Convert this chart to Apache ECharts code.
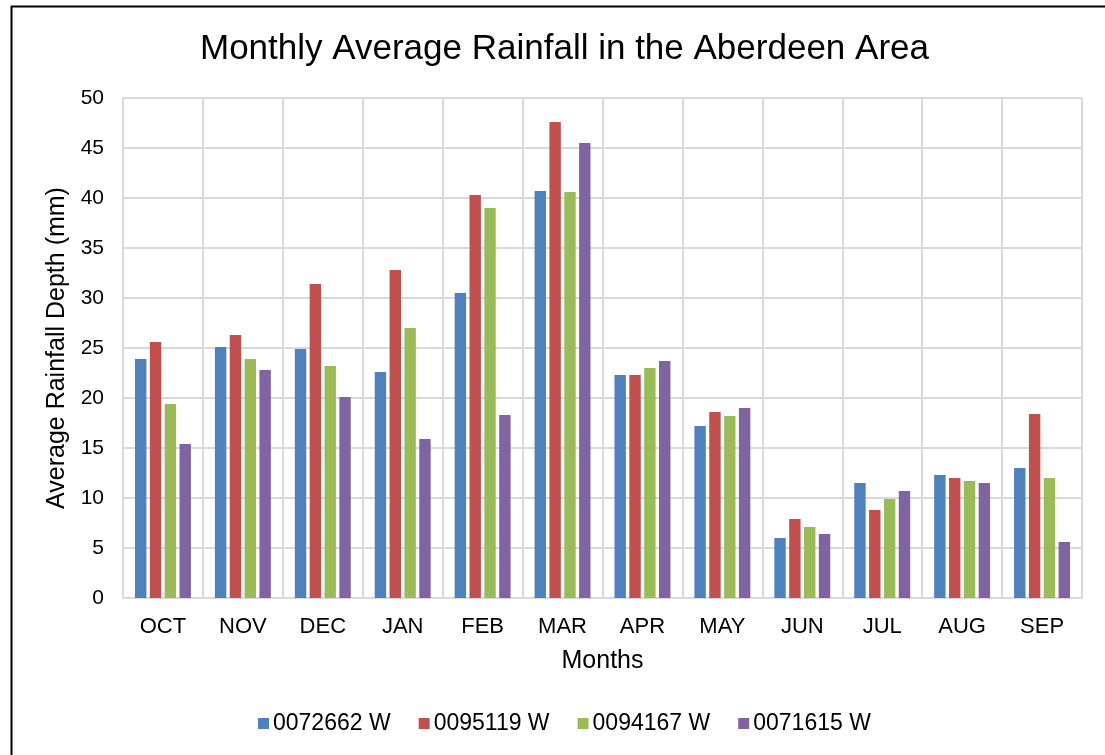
<!DOCTYPE html>
<html>
<head>
<meta charset="utf-8">
<script src="https://cdn.jsdelivr.net/npm/echarts@6/dist/echarts.min.js"></script>
<style>
  html, body { margin: 0; padding: 0; background: #fff; }
  #chart { width: 1105px; height: 755px; }
</style>
</head>
<body>
<div id="chart"></div>
<script>
// months on the x axis
const months = ['OCT', 'NOV', 'DEC', 'JAN', 'FEB', 'MAR', 'APR', 'MAY', 'JUN', 'JUL', 'AUG', 'SEP']

// one array per rain gauge (mm)
const gauge0072662 = [23.9, 25.1, 24.9, 22.6, 30.5, 40.7, 22.3, 17.2, 6.0, 11.5, 12.3, 13.0]
const gauge0095119 = [25.6, 26.3, 31.4, 32.8, 40.3, 47.6, 22.3, 18.6, 7.9, 8.8, 12.0, 18.4]
const gauge0094167 = [19.4, 23.9, 23.2, 27.0, 39.0, 40.6, 23.0, 18.2, 7.1, 9.9, 11.7, 12.0]
const gauge0071615 = [15.4, 22.8, 20.1, 15.9, 18.3, 45.5, 23.7, 19.0, 6.4, 10.7, 11.5, 5.6]

const seriesNames = ['0072662 W', '0095119 W', '0094167 W', '0071615 W']
const colors = ['#4F81BD', '#C0504D', '#9BBB59', '#8064A2']

const font = '"Liberation Sans", Arial, sans-serif'

var myChart = echarts.init(document.getElementById('chart'))

var data = [gauge0072662, gauge0095119, gauge0094167, gauge0071615]

var option = {
  backgroundColor: '#fff',
  animation: false,
  color: colors,
  textStyle: { fontFamily: font, color: '#000' },
  title: {
    text: 'Monthly Average Rainfall in the Aberdeen Area',
    left: 195,
    top: 27,
    textStyle: { fontFamily: font, fontSize: 35, fontWeight: 'normal', color: '#000' }
  },
  legend: {
    bottom: 15,
    left: 253,
    itemWidth: 11,
    itemHeight: 11,
    itemGap: 28,
    icon: 'rect',
    textStyle: { fontFamily: font, fontSize: 23, color: '#000', padding: [0, 0, 0, -1] },
    data: seriesNames
  },
  grid: { left: 123, right: 23, top: 98, bottom: 157, containLabel: false },
  xAxis: {
    type: 'category',
    data: months,
    name: 'Months',
    nameLocation: 'middle',
    nameGap: 51,
    nameTextStyle: { fontFamily: font, fontSize: 25, color: '#000' },
    axisLine: { show: true, lineStyle: { color: '#d9d9d9', width: 2 } },
    axisTick: { show: false },
    axisLabel: { fontFamily: font, fontSize: 22, color: '#000', margin: 18 },
    splitLine: { show: true, lineStyle: { color: '#d9d9d9', width: 2 } }
  },
  yAxis: {
    type: 'value',
    min: 0,
    max: 50,
    interval: 5,
    name: 'Average Rainfall Depth (mm)',
    nameLocation: 'middle',
    nameGap: 53,
    nameTextStyle: { fontFamily: font, fontSize: 25, color: '#000' },
    axisLine: { show: true, lineStyle: { color: '#d9d9d9', width: 2 } },
    axisTick: { show: false },
    axisLabel: { fontFamily: font, fontSize: 21, color: '#000', margin: 19 },
    splitLine: { show: true, lineStyle: { color: '#d9d9d9', width: 2 } }
  },
  series: seriesNames.map((name, i) => ({
    name: name,
    type: 'bar',
    data: data[i],
    barGap: '30%',
    barCategoryGap: '30%',
    itemStyle: { color: colors[i] }
  })),
  graphic: [
    // the black frame on the top and left edges
    { type: 'line', shape: { x1: 11, y1: 6.5, x2: 1105, y2: 6.5 }, style: { stroke: '#000', lineWidth: 2 } },
    { type: 'line', shape: { x1: 11.5, y1: 6, x2: 11.5, y2: 755 }, style: { stroke: '#000', lineWidth: 2 } },
    // right edge of the plot area
    { type: 'line', shape: { x1: 1082, y1: 98, x2: 1082, y2: 598 }, style: { stroke: '#d9d9d9', lineWidth: 2 } }
  ]
}

myChart.setOption(option)
</script>
</body>
</html>
